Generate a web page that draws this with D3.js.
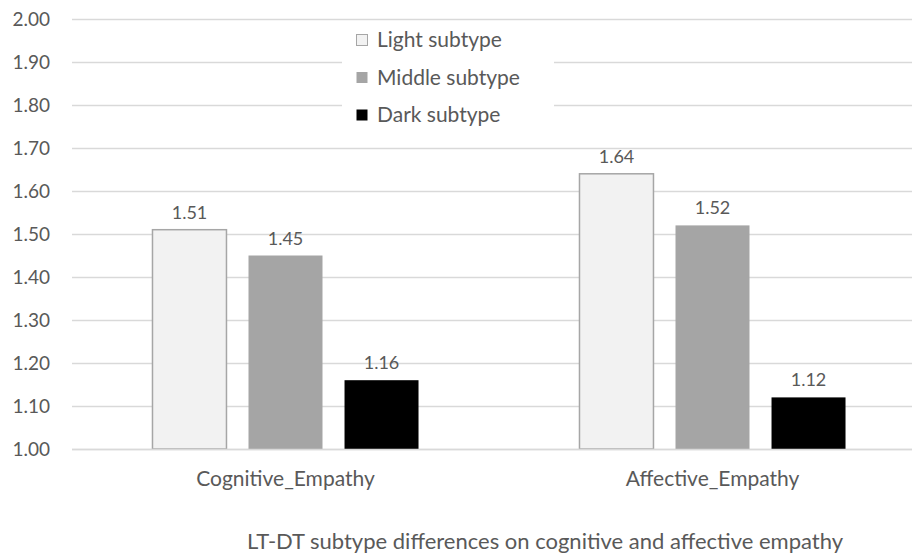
<!DOCTYPE html>
<html>
<head>
<meta charset="utf-8">
<script src="https://cdn.jsdelivr.net/npm/d3@7"></script>
<style>
  html, body { margin: 0; padding: 0; background: #fff; }
  svg { display: block; }
  text { font-family: Lato, "Open Sans", sans-serif; fill: #595959; }
</style>
</head>
<body>
<svg id="chart" width="912" height="556"></svg>
<script>
// Data
const categories = ["Cognitive_Empathy", "Affective_Empathy"];
const subtypes = ["Light subtype", "Middle subtype", "Dark subtype"];
const lightValues = [1.51, 1.64];
const middleValues = [1.45, 1.52];
const darkValues = [1.16, 1.12];
const yTicks = [1.00, 1.10, 1.20, 1.30, 1.40, 1.50, 1.60, 1.70, 1.80, 1.90, 2.00];
const title = "LT-DT subtype differences on cognitive and affective empathy";

const seriesValues = [lightValues, middleValues, darkValues];
const fills = ["#f2f2f2", "#a5a5a5", "#000000"];
const strokes = ["#a6a6a6", "none", "none"];

const svg = d3.select("#chart");
const plotLeft = 72, plotRight = 926, plotTop = 19, plotBottom = 449;

const y = d3.scaleLinear().domain([1.0, 2.0]).range([plotBottom, plotTop]);
const x0 = d3.scaleBand().domain(categories).range([plotLeft, plotRight]).paddingInner(0).paddingOuter(0);
const x1 = d3.scaleBand().domain(subtypes).range([0, x0.bandwidth()])
  .paddingInner(0.219).paddingOuter(0.833);

// Gridlines
svg.append("g")
  .selectAll("line")
  .data(yTicks)
  .join("line")
  .attr("x1", plotLeft).attr("x2", 912)
  .attr("y1", d => Math.round(y(d)) + 0.5).attr("y2", d => Math.round(y(d)) + 0.5)
  .attr("stroke", "#d9d9d9").attr("stroke-width", 1.5);

// Y axis labels
const yAxis = d3.axisLeft(y).tickValues(yTicks).tickFormat(d3.format(".2f")).tickSize(0).tickPadding(22);
const yg = svg.append("g").attr("transform", `translate(${plotLeft},0)`).call(yAxis);
yg.select(".domain").remove();
yg.selectAll("text").style("font-family", "Lato, 'Open Sans', sans-serif").attr("font-size", 19).attr("fill", "#595959");

// Bars
const groups = svg.append("g").selectAll("g")
  .data(categories)
  .join("g")
  .attr("transform", d => `translate(${x0(d)},0)`);

subtypes.forEach((s, si) => {
  groups.append("rect")
    .attr("x", () => x1(s) + 0.5)
    .attr("width", x1.bandwidth() - 1)
    .attr("y", (d, i) => y(seriesValues[si][i]))
    .attr("height", (d, i) => y(1.0) - y(seriesValues[si][i]))
    .attr("fill", fills[si])
    .attr("stroke", strokes[si])
    .attr("stroke-width", 1.5);

  groups.append("text")
    .attr("x", () => x1(s) + x1.bandwidth() / 2)
    .attr("y", (d, i) => y(seriesValues[si][i]) - 11)
    .attr("text-anchor", "middle")
    .attr("font-size", 18)
    .text((d, i) => seriesValues[si][i].toFixed(2));
});

// Baseline
svg.append("line")
  .attr("x1", plotLeft).attr("x2", 912)
  .attr("y1", Math.round(y(1.0)) + 0.5).attr("y2", Math.round(y(1.0)) + 0.5)
  .attr("stroke", "#d9d9d9").attr("stroke-width", 1.5);

// Category labels
const xAxis = d3.axisBottom(x0).tickSize(0).tickPadding(22);
const xg = svg.append("g").attr("transform", `translate(0,${plotBottom})`).call(xAxis);
xg.select(".domain").remove();
xg.selectAll("text").style("font-family", "Lato, 'Open Sans', sans-serif").attr("font-size", 21).attr("fill", "#595959");

// Legend
const legend = svg.append("g").attr("transform", "translate(342,22)");
legend.append("rect").attr("width", 212).attr("height", 112).attr("fill", "#fff");
subtypes.forEach((s, i) => {
  const row = legend.append("g").attr("transform", `translate(14,${18 + i * 37.5})`);
  row.append("rect")
    .attr("x", 0.5).attr("y", -5.5).attr("width", 11).attr("height", 11)
    .attr("fill", fills[i]).attr("stroke", strokes[i]).attr("stroke-width", 1);
  row.append("text")
    .attr("x", 21).attr("y", 7)
    .attr("font-size", 21)
    .text(s);
});

// Title
svg.append("text")
  .attr("x", 545).attr("y", 549)
  .attr("text-anchor", "middle")
  .attr("font-size", 22)
  .text(title);
</script>
</body>
</html>
